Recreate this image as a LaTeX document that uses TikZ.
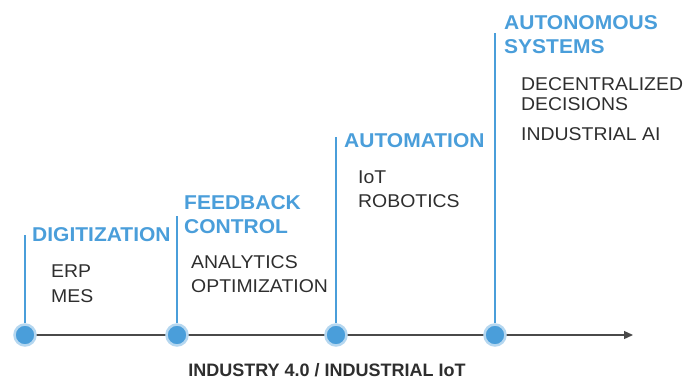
\documentclass[tikz,border=0pt]{standalone}
\usepackage{fontspec}
\setmainfont{Liberation Sans}
\newfontfamily\widefont[FakeStretch=1.05]{Liberation Sans}
\usepackage{xcolor}
\usetikzlibrary{arrows.meta}

\definecolor{stageblue}{HTML}{4A9EDA}
\definecolor{halo}{HTML}{B5D7F0}
\definecolor{textgray}{HTML}{2E2E2E}
\definecolor{axisgray}{HTML}{4A4A4A}

\begin{document}
\begin{tikzpicture}[x=1pt, y=-1pt,
	title/.style={anchor=base west, inner sep=0pt, text=stageblue, font=\widefont\fontsize{20}{24}\selectfont\bfseries},
	item/.style={anchor=base west, inner sep=0pt, text=textgray, font=\widefont\fontsize{18.5}{22}\selectfont},
	stem/.style={draw=stageblue, line width=1.4pt},
	dot/.style={circle, fill=stageblue, draw=halo, line width=2.5pt, minimum size=21pt, inner sep=0pt}]
	\useasboundingbox (0,0) rectangle (686,380);

	% Timeline axis and its caption
	\coordinate (tip) at (633,335);
	\coordinate (start) at (25,335);
	\draw[draw=axisgray, line width=1.3pt, -{Triangle[length=9pt, width=8pt]}] (start) -- (tip);
	\node[anchor=base, inner sep=0pt, text=textgray, font=\fontsize{18}{22}\selectfont\bfseries] (caption) at (327,376) {INDUSTRY 4.0 / INDUSTRIAL IoT};

	% Stage 1
	\coordinate (top1) at (25,235);
	\node[dot] (d1) at (25,335) {};
	\draw[stem] (top1) -- (d1.north);
	\node[title] (digit) at (32,241) {DIGITIZATION};
	\node[item] (erp) at (51,277) {ERP};
	\node[item] (mes) at (51,302) {MES};

	% Stage 2
	\coordinate (top2) at (177,216);
	\node[dot] (d2) at (177,335) {};
	\draw[stem] (top2) -- (d2.north);
	\node[title] (feed) at (184,209) {FEEDBACK};
	\node[title] (ctrl) at (184,233) {CONTROL};
	\node[item] (anal) at (191,268) {ANALYTICS};
	\node[item] (optim) at (191,292) {OPTIMIZATION};

	% Stage 3
	\coordinate (top3) at (336,137);
	\node[dot] (d3) at (336,335) {};
	\draw[stem] (top3) -- (d3.north);
	\node[title] (auto) at (344,147) {AUTOMATION};
	\node[item] (iot) at (358,183) {IoT};
	\node[item] (robot) at (358,207) {ROBOTICS};

	% Stage 4
	\coordinate (top4) at (495,33);
	\node[dot] (d4) at (495,335) {};
	\draw[stem] (top4) -- (d4.north);
	\node[title] (auton) at (504,29) {AUTONOMOUS};
	\node[title] (sys) at (504,53) {SYSTEMS};
	\node[item] (decen) at (521,90) {DECENTRALIZED};
	\node[item] (decis) at (521,110) {DECISIONS};
	\node[item] (indai) at (521,140) {INDUSTRIAL AI};
\end{tikzpicture}
\end{document}
